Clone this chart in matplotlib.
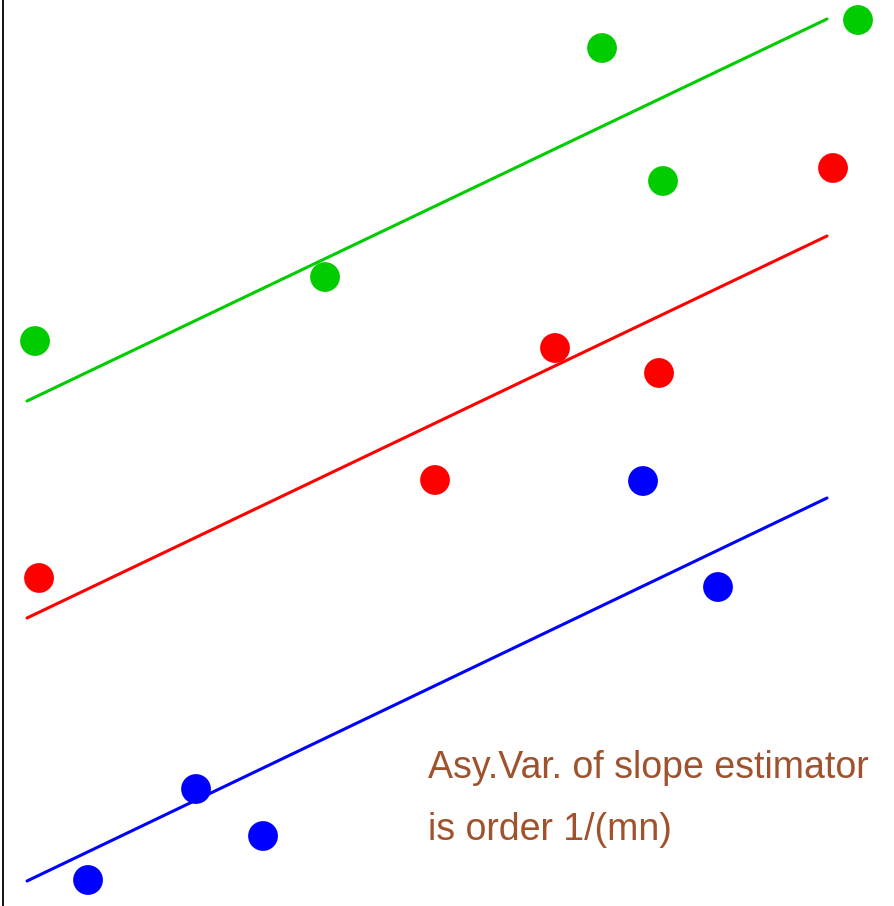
import matplotlib.pyplot as plt

plt.rcParams['font.family'] = ['Liberation Sans', 'DejaVu Sans']

# observations for the three groups
green_x = [0.32, 3.22, 5.99, 6.60, 8.55]
green_y = [5.65, 6.29, 8.58, 7.25, 8.86]
red_x = [0.36, 4.32, 5.52, 6.56, 8.30]
red_y = [3.28, 4.26, 5.58, 5.33, 7.38]
blue_x = [0.85, 1.93, 2.60, 6.40, 7.15]
blue_y = [0.26, 1.17, 0.70, 4.25, 3.19]

# common slope, group-specific intercepts
line_x = [0.24, 8.24]
green_line = [5.05, 8.87]
red_line = [2.88, 6.70]
blue_line = [0.25, 4.08]

fig = plt.figure(figsize=(8.94, 9.06), dpi=100)
ax = fig.add_axes([0.0034, 0.0, 0.9966, 1.0])

groups = [
    (green_x, green_y, green_line, '#00cc00'),
    (red_x, red_y, red_line, '#ff0000'),
    (blue_x, blue_y, blue_line, '#0000ff'),
]
for xs, ys, ln, col in groups:
    ax.plot(line_x, ln, color=col, lw=2.2, solid_capstyle='round', zorder=2)
    ax.scatter(xs, ys, s=460, color=col, edgecolors='none', zorder=3)

ax.text(4.25, 1.28, 'Asy.Var. of slope estimator', color='#a0522d',
        fontsize=27, va='baseline')
ax.text(4.25, 0.66, 'is order 1/(mn)', color='#a0522d',
        fontsize=27, va='baseline')

ax.set_xlim(0, 8.91)
ax.set_ylim(0, 9.06)
ax.set_xticks([])
ax.set_yticks([])
for side in ['top', 'right', 'bottom']:
    ax.spines[side].set_visible(False)
ax.spines['left'].set_linewidth(1.3)

fig.savefig('out.png', dpi=100)
